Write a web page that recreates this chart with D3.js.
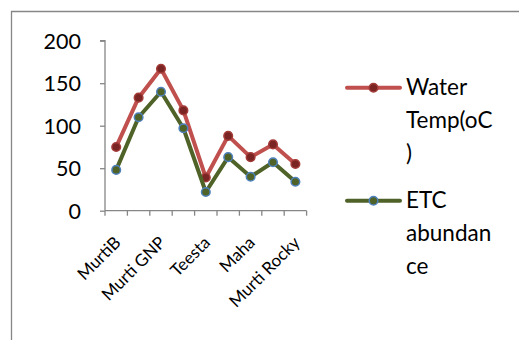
<!DOCTYPE html>
<html>
<head>
<meta charset="utf-8">
<script src="https://cdn.jsdelivr.net/npm/d3@7/dist/d3.min.js"></script>
<style>
  html, body { margin: 0; padding: 0; background: #fff; }
  svg { display: block; }
  text { font-family: Lato, "Open Sans", "Noto Sans", sans-serif; fill: #000; }
</style>
</head>
<body>
<svg id="chart" width="519" height="340"></svg>
<script>
// Sampling sites (only every other one is labelled on the axis)
const categories = ["MurtiB", "s2", "Murti GNP", "s4", "Teesta", "s6", "Maha", "s8", "Murti Rocky"];
const shownLabels = ["MurtiB", "Murti GNP", "Teesta", "Maha", "Murti Rocky"];
const waterTemp = [75, 133, 167, 118, 39, 88, 63, 78, 55];
const etcAbundance = [48, 110, 140, 97, 22, 63, 40, 57, 34];
const yTicks = [0, 50, 100, 150, 200];
const seriesNames = [["Water", "Temp(oC", ")"], ["ETC", "abundan", "ce"]];

const svg = d3.select("#chart");
const grey = "#868686";

// outer chart frame
svg.append("path")
  .attr("d", "M11.5,340 V11.5 H519")
  .attr("fill", "none")
  .attr("stroke", grey)
  .attr("stroke-width", 1.3);

const x = d3.scaleBand().domain(categories).range([105, 306.6]);
const y = d3.scaleLinear().domain([0, 200]).range([210.7, 40.7]);

// y axis
const yAxis = svg.append("g").attr("transform", "translate(105,0)")
  .call(d3.axisLeft(y).tickValues(yTicks).tickSize(5));
yAxis.select(".domain").attr("stroke", grey).attr("stroke-width", 1.3)
  .attr("d", `M-5,${y(200)}H0V${y(0)}`);
yAxis.selectAll(".tick line").attr("stroke", grey).attr("stroke-width", 1.3);
yAxis.selectAll(".tick text")
  .attr("font-size", 21.5).attr("x", -24).attr("dy", "0.36em")
  .style("font-family", "Lato, 'Open Sans', sans-serif");

// x axis with tick marks at category boundaries
const xg = svg.append("g").attr("transform", `translate(0,${y(0)})`);
xg.append("line").attr("x1", 105).attr("x2", 306.6).attr("y1", 0).attr("y2", 0)
  .attr("stroke", grey).attr("stroke-width", 1.3);
const bounds = categories.map(c => x(c)).concat([x.range()[1]]);
xg.selectAll("line.tk").data(bounds).join("line").attr("class", "tk")
  .attr("x1", d => d).attr("x2", d => d).attr("y1", 0).attr("y2", 5)
  .attr("stroke", grey).attr("stroke-width", 1.3);
xg.selectAll("text").data(categories.filter(c => shownLabels.includes(c))).join("text")
  .attr("transform", d => `translate(${x(d) + x.bandwidth() / 2 + 5.5},${33}) rotate(-45)`)
  .attr("text-anchor", "end")
  .attr("font-size", 17)
  .text(d => d);

const cx = d => x(d) + x.bandwidth() / 2;
const line = vals => d3.line().x((d, i) => cx(categories[i])).y(d => y(d))(vals);

const series = [
  { vals: waterTemp, stroke: "#C0504D", mfill: "#7A2523", mstroke: "#A33B38" },
  { vals: etcAbundance, stroke: "#4F6228", mfill: "#4F6228", mstroke: "#4F81BD" }
];

series.forEach(s => {
  svg.append("path").attr("d", line(s.vals)).attr("fill", "none")
    .attr("stroke", s.stroke).attr("stroke-width", 4).attr("stroke-linejoin", "round");
  svg.selectAll(null).data(s.vals).join("circle")
    .attr("cx", (d, i) => cx(categories[i])).attr("cy", d => y(d)).attr("r", 4.3)
    .attr("fill", s.mfill).attr("stroke", s.mstroke).attr("stroke-width", 1.5);
});

// legend
const legY = [87.7, 200.7];
series.forEach((s, k) => {
  const g = svg.append("g");
  g.append("line").attr("x1", 347).attr("x2", 400).attr("y1", legY[k]).attr("y2", legY[k])
    .attr("stroke", s.stroke).attr("stroke-width", 4).attr("stroke-linecap", "round");
  g.append("circle").attr("cx", 373.5).attr("cy", legY[k]).attr("r", 4.3)
    .attr("fill", s.mfill).attr("stroke", s.mstroke).attr("stroke-width", 1.5);
  seriesNames[k].forEach((t, j) => {
    g.append("text").attr("x", 406).attr("y", legY[k] + 7.5 + j * 33)
      .attr("font-size", 22.5).text(t);
  });
});
</script>
</body>
</html>
